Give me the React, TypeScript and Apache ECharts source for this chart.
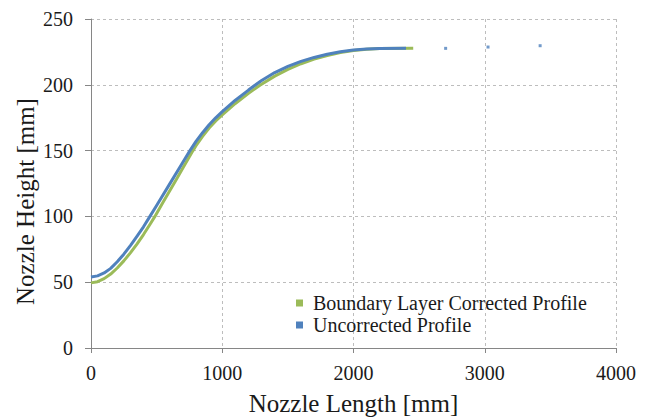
import React, { useEffect, useRef } from "react";
import * as echarts from "echarts";

const xTicks = [0, 1000, 2000, 3000, 4000];
const yTicks = [0, 50, 100, 150, 200, 250];

const blLength = [0, 50, 100, 150, 200, 250, 300, 350, 400, 450, 487, 550, 600, 650, 700, 777, 800, 850, 900, 950, 1000, 1100, 1200, 1287, 1400, 1500, 1600, 1700, 1800, 1900, 2000, 2100, 2200, 2455];
const blHeight = [49.5, 50.4, 52.7, 56.2, 60.8, 66.2, 72.3, 79, 86.2, 94, 100, 110.9, 119.5, 128.1, 136.7, 150, 153.7, 160.8, 167.1, 172.5, 177.2, 185.8, 193.5, 199.7, 206.6, 211.7, 216, 219.5, 222.3, 224.5, 226.1, 227.1, 227.5, 227.7];

const ucLength = [0, 50, 100, 150, 200, 250, 300, 350, 400, 449, 500, 600, 700, 754, 800, 850, 900, 950, 1000, 1100, 1200, 1249, 1300, 1400, 1500, 1600, 1700, 1800, 1900, 2000, 2100, 2200, 2400];
const ucHeight = [54, 54.8, 57, 60.5, 65.5, 71.3, 77.8, 84.8, 92.1, 100, 108.3, 124.7, 141.1, 150, 157, 163.6, 169.6, 174.9, 179.6, 188.3, 196, 199.6, 203.2, 209.3, 214, 217.8, 220.8, 223.2, 225.1, 226.4, 227.2, 227.6, 227.7];

const ucPointsLength = [2702, 3025, 3422];
const ucPointsHeight = [227.7, 228.7, 229.7];

const seriesNames = ["Boundary Layer Corrected Profile", "Uncorrected Profile"];
const colors = ["#9BBB59", "#4F81BD"];
const xTitle = "Nozzle Length [mm]";
const yTitle = "Nozzle Height [mm]";

const FONT20 = '20px "Liberation Serif", "Times New Roman", serif';
const FONT25 = '25px "Liberation Serif", "Times New Roman", serif';
const TXT = "#1a1a1a";

export default function App() {
  const ref = useRef<HTMLDivElement>(null);
  useEffect(() => {
    if (!ref.current) return;
    const chart = echarts.init(ref.current, undefined, { renderer: "svg" });
    const bl = blLength.map((x, i) => [x, blHeight[i]]);
    const uc = ucLength.map((x, i) => [x, ucHeight[i]]);
    const ucp = ucPointsLength.map((x, i) => [x, ucPointsHeight[i]]);
    chart.setOption({
      animation: false,
      backgroundColor: "#ffffff",
      textStyle: { fontFamily: "Liberation Serif" },
      grid: { left: 91, right: 35, top: 19, bottom: 70, containLabel: false },
      legend: { show: false, data: seriesNames },
      xAxis: {
        type: "value",
        min: xTicks[0],
        max: xTicks[xTicks.length - 1],
        interval: 1000,
        axisLine: { show: true, lineStyle: { color: "#868686", width: 1 } },
        axisTick: { show: true, length: 5, lineStyle: { color: "#868686" } },
        axisLabel: { show: false },
        splitLine: { show: true, lineStyle: { color: "#bdbdbd", type: [3, 3], width: 1 } },
      },
      yAxis: {
        type: "value",
        min: yTicks[0],
        max: yTicks[yTicks.length - 1],
        interval: 50,
        axisLine: { show: true, lineStyle: { color: "#868686", width: 1 } },
        axisTick: { show: true, length: 6, lineStyle: { color: "#868686" } },
        axisLabel: { show: false },
        splitLine: { show: true, lineStyle: { color: "#bdbdbd", type: [3, 3], width: 1 } },
      },
      series: [
        {
          name: seriesNames[0],
          type: "line",
          data: bl,
          smooth: false,
          showSymbol: false,
          lineStyle: { color: colors[0], width: 3, join: "round" },
          itemStyle: { color: colors[0] },
        },
        {
          name: seriesNames[1],
          type: "line",
          data: uc,
          smooth: false,
          showSymbol: false,
          lineStyle: { color: colors[1], width: 3, join: "round" },
          itemStyle: { color: colors[1] },
        },
        {
          name: seriesNames[1],
          type: "scatter",
          data: ucp,
          symbol: "rect",
          symbolSize: 3,
          itemStyle: { color: colors[1] },
        },
      ],
    });

    const x0 = chart.convertToPixel({ xAxisIndex: 0 }, xTicks[0]) as number;
    const xN = chart.convertToPixel({ xAxisIndex: 0 }, xTicks[xTicks.length - 1]) as number;
    const y0 = chart.convertToPixel({ yAxisIndex: 0 }, yTicks[0]) as number;
    const yN = chart.convertToPixel({ yAxisIndex: 0 }, yTicks[yTicks.length - 1]) as number;

    const graphics: any[] = [];
    yTicks.forEach((v) => {
      const py = chart.convertToPixel({ yAxisIndex: 0 }, v) as number;
      graphics.push({
        type: "text",
        x: x0 - 18,
        y: py,
        silent: true,
        style: { text: String(v), font: FONT20, fill: TXT, align: "right", verticalAlign: "middle" },
      });
    });
    xTicks.forEach((v) => {
      const px = chart.convertToPixel({ xAxisIndex: 0 }, v) as number;
      graphics.push({
        type: "text",
        x: px,
        y: y0 + 25,
        silent: true,
        style: { text: String(v), font: FONT20, fill: TXT, align: "center", verticalAlign: "middle" },
      });
    });
    graphics.push({
      type: "text",
      x: (x0 + xN) / 2,
      y: y0 + 55,
      silent: true,
      style: { text: xTitle, font: FONT25, fill: TXT, align: "center", verticalAlign: "middle" },
    });
    graphics.push({
      type: "text",
      x: x0 - 66,
      y: (y0 + yN) / 2 + 18,
      rotation: Math.PI / 2,
      silent: true,
      style: { text: yTitle, font: FONT25, fill: TXT, align: "center", verticalAlign: "middle" },
    });
    seriesNames.forEach((name, i) => {
      const cy = 303 + i * 22;
      graphics.push({
        type: "rect",
        shape: { x: 296, y: cy - 3.5, width: 7, height: 7 },
        silent: true,
        style: { fill: colors[i] },
      });
      graphics.push({
        type: "text",
        x: 313,
        y: cy,
        silent: true,
        style: { text: name, font: FONT20, fill: TXT, align: "left", verticalAlign: "middle" },
      });
    });
    chart.setOption({ graphic: graphics });

    return () => chart.dispose();
  }, []);
  return (
    <div
      ref={ref}
      style={{ position: "fixed", left: 0, top: 0, width: 651, height: 418, background: "#fff" }}
    />
  );
}
